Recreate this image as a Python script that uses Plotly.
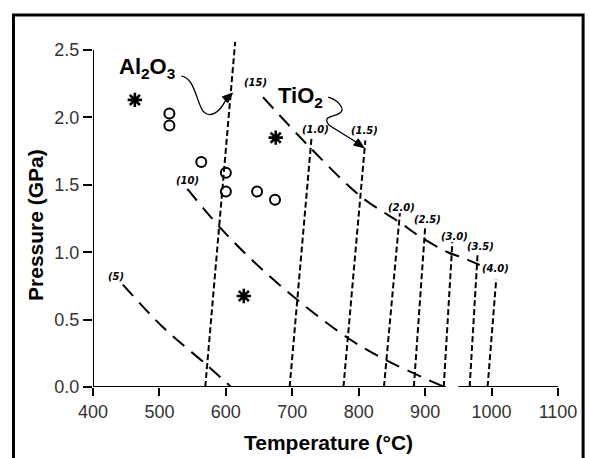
import plotly.graph_objects as go

# ---- data ----
iso_labels = ["(0.5)", "(1.0)", "(1.5)", "(2.0)", "(2.5)", "(3.0)", "(3.5)", "(4.0)"]
iso_T_bottom = [569, 696, 777, 838, 883, 928, 967, 994]
iso_T_top = [614, 729, 810, 862, 900, 941, 979, 1007]
iso_P_top = [2.56, 1.85, 1.83, 1.29, 1.18, 1.075, 0.99, 0.80]
iso_label_T = [615, 735, 808, 864, 904, 944, 983, 1006]
iso_label_P = [2.63, 1.91, 1.90, 1.335, 1.24, 1.12, 1.04, 0.88]

c15_T = [656, 728, 804, 862, 894, 934, 956, 982]
c15_P = [2.15, 1.77, 1.41, 1.22, 1.11, 1.00, 0.96, 0.905]
c10_T = [542, 590, 642, 708, 786, 841, 929]
c10_P = [1.47, 1.19, 0.93, 0.645, 0.356, 0.20, 0.0]
c5_T = [445, 505, 572, 608]
c5_P = [0.76, 0.445, 0.16, 0.0]
curve_labels = ["(15)", "(10)", "(5)"]
curve_label_T = [644, 542, 434]
curve_label_P = [2.26, 1.53, 0.82]

star_T = [463, 675, 627]
star_P = [2.13, 1.85, 0.675]
circ_T = [515, 515, 563, 600, 600, 647, 674]
circ_P = [2.03, 1.94, 1.67, 1.59, 1.45, 1.45, 1.39]

x_ticks = [400, 500, 600, 700, 800, 900, 1000, 1100]
y_ticks = [0.0, 0.5, 1.0, 1.5, 2.0, 2.5]

fig = go.Figure()

for tb, tt, pt in zip(iso_T_bottom, iso_T_top, iso_P_top):
    fig.add_trace(go.Scatter(x=[tb, tt], y=[0, pt], mode="lines",
                             line=dict(color="black", width=2, dash="6px,3px"),
                             showlegend=False, hoverinfo="skip"))

for T, P in [(c15_T, c15_P), (c10_T, c10_P), (c5_T, c5_P)]:
    fig.add_trace(go.Scatter(x=T, y=P, mode="lines",
                             line=dict(color="black", width=2, dash="15px,9px", shape="spline"),
                             showlegend=False, hoverinfo="skip"))

fig.add_trace(go.Scatter(x=star_T, y=star_P, mode="markers",
                         marker=dict(symbol="asterisk", size=12, line=dict(color="black", width=2.6)),
                         showlegend=False, cliponaxis=False))
fig.add_trace(go.Scatter(x=circ_T, y=circ_P, mode="markers",
                         marker=dict(symbol="circle-open", size=10, color="black",
                                     line=dict(color="black", width=2)),
                         showlegend=False, cliponaxis=False))

lab_font = dict(family="DejaVu Sans", size=10, color="black", weight="bold", style="italic")
for t, x, y in zip(iso_labels + curve_labels, iso_label_T + curve_label_T, iso_label_P + curve_label_P):
    fig.add_annotation(x=x, y=y, text=t, showarrow=False, font=lab_font,
                       xanchor="center", yanchor="middle")

big = dict(family="Liberation Sans", size=22, color="black", weight="bold")
fig.add_annotation(x=481, y=2.37, text="Al<sub>2</sub>O<sub>3</sub>", showarrow=False, font=big,
                   xanchor="center", yanchor="middle")
fig.add_annotation(x=713, y=2.15, text="TiO<sub>2</sub>", showarrow=False, font=big,
                   xanchor="center", yanchor="middle")

# squiggle arrows (curves + filled heads)
fig.add_shape(type="path", xref="x", yref="y",
              path="M 533,2.307 C 552,2.30 556,2.12 565,2.05 C 575,1.99 590,2.03 600,2.13",
              line=dict(color="black", width=1.3))
fig.add_shape(type="path", xref="x", yref="y",
              path="M 610,2.18 L 602.8,2.108 L 594.7,2.153 Z",
              line=dict(color="black", width=1), fillcolor="black")
fig.add_shape(type="path", xref="x", yref="y",
              path="M 754,2.15 C 768,2.13 782,2.06 771,2.03 C 760,2.00 744,2.01 756,1.94 L 796,1.818",
              line=dict(color="black", width=1.3))
fig.add_shape(type="path", xref="x", yref="y",
              path="M 808,1.775 L 792.3,1.794 L 799.3,1.842 Z",
              line=dict(color="black", width=1), fillcolor="black")

# axis lines (x axis has a small break near 940 as in the original)
fig.add_shape(type="line", xref="x", yref="y", x0=400, x1=400, y0=0, y1=2.5,
              line=dict(color="black", width=2))
fig.add_shape(type="line", xref="x", yref="y", x0=400, x1=931, y0=0, y1=0,
              line=dict(color="black", width=2))
fig.add_shape(type="line", xref="x", yref="y", x0=950, x1=1100, y0=0, y1=0,
              line=dict(color="black", width=2))

# outer frame
fig.add_shape(type="rect", xref="paper", yref="paper", x0=-0.171, x1=1.054, y0=-0.25, y1=1.054,
              line=dict(color="black", width=3))

tick_font = dict(family="Liberation Sans", size=18, color="#333333")
fig.update_xaxes(range=[400, 1100], tickvals=x_ticks, ticks="outside", ticklen=8, tickwidth=2,
                 tickcolor="black", showline=False, showgrid=False, zeroline=False,
                 tickfont=tick_font)
fig.update_yaxes(range=[0, 2.619], tickvals=y_ticks, tickformat=".1f", ticks="outside", ticklen=9,
                 tickwidth=2, tickcolor="black", showline=False, showgrid=False, zeroline=False,
                 tickfont=tick_font)

title_font = dict(family="Liberation Sans", size=21, color="black", weight="bold")
fig.add_annotation(xref="paper", yref="paper", x=0.506, y=-0.156, text="Temperature (°C)",
                   showarrow=False, font=title_font, xanchor="center", yanchor="middle")
fig.add_annotation(xref="paper", yref="paper", x=-0.124, y=0.46, text="Pressure (GPa)",
                   textangle=-90, showarrow=False, font=title_font, xanchor="center", yanchor="middle")

fig.update_layout(width=589, height=458, margin=dict(l=93, r=28, t=34, b=71),
                  plot_bgcolor="white", paper_bgcolor="white", showlegend=False)

fig.write_html("out.html", config={"displayModeBar": False},
               post_script="document.body.style.margin='0px';document.body.style.overflow='hidden';")
